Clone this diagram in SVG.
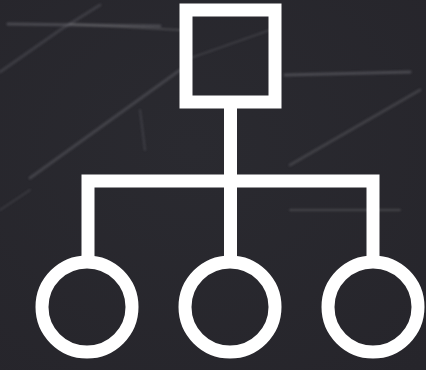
<svg xmlns="http://www.w3.org/2000/svg" width="426" height="370" viewBox="0 0 426 370">
  <defs>
    <radialGradient id="bg" cx="0.45" cy="0.4" r="0.8">
      <stop offset="0" stop-color="#2a2a30"/>
      <stop offset="1" stop-color="#26252b"/>
    </radialGradient>
    <filter id="soft" x="-10%" y="-10%" width="120%" height="120%">
      <feGaussianBlur stdDeviation="1.2"/>
    </filter>
    <style>
      .chalk { fill: none; stroke: #8a8a90; stroke-linecap: round; }
      .icon { fill: none; stroke: #ffffff; stroke-width: 13; stroke-linejoin: miter; stroke-linecap: butt; }
    </style>
  </defs>
  <rect width="426" height="370" fill="url(#bg)"/>
  <g id="chalk-streaks" filter="url(#soft)">
    <path class="chalk" d="M8 24 L160 26" stroke-width="3" opacity="0.35"/>
    <path class="chalk" d="M70 24 L180 30" stroke-width="2" opacity="0.3"/>
    <path class="chalk" d="M0 72 L60 30 L100 5" stroke-width="3" opacity="0.22"/>
    <path class="chalk" d="M30 178 L180 70" stroke-width="3" opacity="0.28"/>
    <path class="chalk" d="M140 110 L145 150" stroke-width="2" opacity="0.22"/>
    <path class="chalk" d="M285 75 L410 72" stroke-width="3" opacity="0.35"/>
    <path class="chalk" d="M290 165 L420 90" stroke-width="3" opacity="0.25"/>
    <path class="chalk" d="M290 210 L400 210" stroke-width="2" opacity="0.3"/>
    <path class="chalk" d="M0 210 L30 190" stroke-width="2" opacity="0.2"/>
    <path class="chalk" d="M185 60 L270 30" stroke-width="2" opacity="0.2"/>
  </g>
  <g id="connectors">
    <path class="icon" d="M230.5 108 V258"/>
    <path class="icon" d="M88 260 V181 H373 V260"/>
  </g>
  <g id="root">
    <rect class="icon" x="186" y="10" width="89" height="92"/>
  </g>
  <g id="child-1">
    <circle class="icon" cx="87" cy="307" r="45"/>
  </g>
  <g id="child-2">
    <circle class="icon" cx="230" cy="307" r="45"/>
  </g>
  <g id="child-3">
    <circle class="icon" cx="373" cy="307" r="45"/>
  </g>
</svg>
